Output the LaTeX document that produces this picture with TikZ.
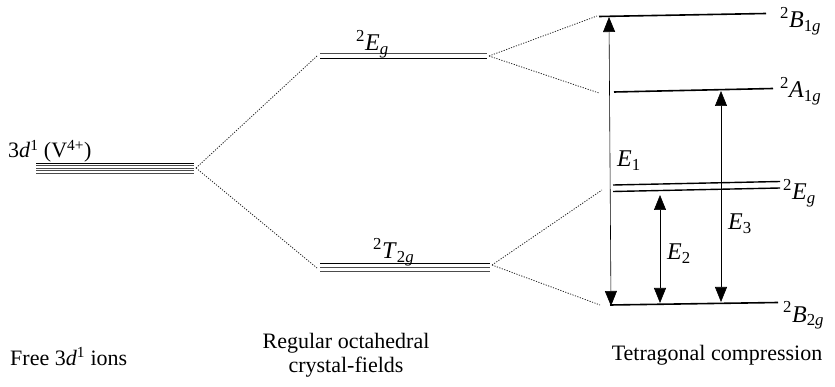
\documentclass[tikz,border=0pt]{standalone}
\usepackage{fontspec}
\setmainfont{Liberation Serif}
\usetikzlibrary{arrows.meta}
\newcommand{\lvlab}[2]{\textsuperscript{2}\textit{#1}\textsubscript{#2}}
\begin{document}
\begin{tikzpicture}[x=1pt,y=-1pt,
  level/.style={line width=1.6pt},
  sublevel/.style={line width=0.9pt, black!70},
  splitline/.style={dash pattern=on 1.2pt off 1.4pt, line width=0.8pt, black!85},
  trans/.style={line width=0.6pt, {Triangle[length=15pt,width=12pt]}-{Triangle[length=15pt,width=12pt]}},
  lab/.style={font=\fontsize{22}{26}\selectfont, inner sep=0pt},
  lvl/.style={font=\fontsize{24}{28}\selectfont, inner sep=0pt}]
\useasboundingbox (0,0) rectangle (835,387);

% free ion (5-fold)
\draw[sublevel, black] (36,163) -- (194,163);
\foreach \yy in {165.5,168,170.5,173} \draw[sublevel] (36,\yy) -- (194,\yy);
\coordinate (fiR) at (196,168);
\node[lab, anchor=base west] (fil) at (8,158) {3\textit{d}\textsuperscript{1} (V\textsuperscript{4+})};

% octahedral Eg (2-fold)
\draw[sublevel] (320,53) -- (487,53);
\draw[sublevel, black] (320,58) -- (487,58);
\coordinate (egL) at (317,56);
\coordinate (egR) at (489,56);
\node[lvl, anchor=base west] (egl) at (356,51) {\lvlab{E}{\textit{g}}};

% octahedral T2g (3-fold)
\draw[sublevel, black] (320,263) -- (490,263);
\draw[sublevel] (320,267) -- (490,267);
\draw[sublevel] (320,271) -- (490,271);
\coordinate (tL) at (317,268);
\coordinate (tR) at (492,265);
\node[lvl, anchor=base west] (tl) at (373,259) {\lvlab{T}{2\textit{g}}};

% tetragonal levels
\draw[level] (599,16.5) coordinate (b1L) -- (766,13.5) coordinate (b1R);
\draw[level] (614,92) coordinate (a1L) -- (773,88.5) coordinate (a1R);
\draw[level, line width=1.4pt] (613,185) coordinate (eL) -- (780,181.5) coordinate (eR);
\draw[level, line width=1.4pt] (613,191.5) -- (780,188);
\draw[level] (610,305) coordinate (b2L) -- (778,302.5) coordinate (b2R);

\node[lvl, anchor=base west] (b1l) at (780,28) {\lvlab{B}{1\textit{g}}};
\node[lvl, anchor=base west] (a1l) at (780,98) {\lvlab{A}{1\textit{g}}};
\node[lvl, anchor=base west] (el) at (783,200) {\lvlab{E}{\textit{g}}};
\node[lvl, anchor=base west] (b2l) at (783,322) {\lvlab{B}{2\textit{g}}};

% splitting lines
\coordinate (d1) at (597,16);
\coordinate (d2) at (599,93);
\coordinate (d3) at (602,190);
\coordinate (d4) at (600,305);
\draw[splitline] (fiR) -- (egL);
\draw[splitline] (fiR) -- (tL);
\draw[splitline] (egR) -- (d1);
\draw[splitline] (egR) -- (d2);
\draw[splitline] (tR) -- (d3);
\draw[splitline] (tR) -- (d4);

% transitions
\coordinate (e1t) at (609,17);
\coordinate (e1b) at (611,306);
\coordinate (e2t) at (660,195);
\coordinate (e2b) at (660,303);
\coordinate (e3t) at (721,91);
\coordinate (e3b) at (721,302);
\draw[trans] (e1t) -- (e1b);
\draw[trans] (e2t) -- (e2b);
\draw[trans] (e3t) -- (e3b);
\node[lvl, anchor=base west] (E1) at (617,167) {\textit{E}\textsubscript{1}};
\node[lvl, anchor=base west] (E2) at (667,260) {\textit{E}\textsubscript{2}};
\node[lvl, anchor=base west] (E3) at (728,230) {\textit{E}\textsubscript{3}};

% captions
\node[lab, anchor=base west] (c1) at (10,365) {Free 3\textit{d}\textsuperscript{1} ions};
\node[lab, anchor=base] (c2a) at (346,348) {Regular octahedral};
\node[lab, anchor=base] (c2b) at (346,372) {crystal-fields};
\node[lab, anchor=base] (c3) at (717,360) {Tetragonal compression};
\end{tikzpicture}
\end{document}
